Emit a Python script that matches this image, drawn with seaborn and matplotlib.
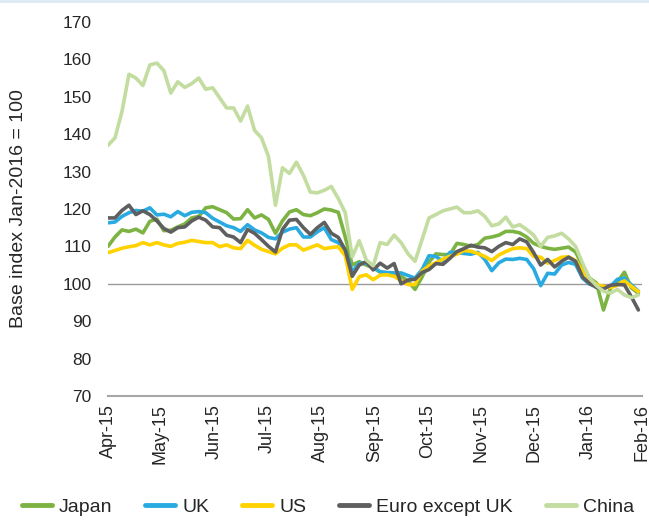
import seaborn as sns
import matplotlib.pyplot as plt
import matplotlib.dates as mdates
import pandas as pd
from matplotlib.lines import Line2D

sns.set_style("white")
plt.rcParams['font.family'] = ['Liberation Sans', 'DejaVu Sans']

# Index values (Jan-2016 = 100), sampled every 4 days from 1 Apr 2015
dates = pd.date_range("2015-04-01", periods=77, freq="4D")

japan = [110, 112.5, 114.4, 114, 114.6, 113.6, 116.7, 117.3, 114.2, 114.3,
         115.2, 116, 117.6, 118, 120.3, 120.6, 119.8, 119, 117.3, 117.4,
         119.8, 117.6, 118.4, 117.2, 113.5, 116.8, 119.2, 119.8, 118.5, 118.2,
         119, 120, 119.7, 119.1, 112.5, 105, 105.9, 105, 104.3, 103.1,
         102.9, 102.6, 102, 100.7, 98.5, 101.8, 105.8, 108, 107.8, 107.8,
         110.8, 110.5, 110, 110.5, 112.2, 112.5, 113, 114, 114, 113.6,
         112.5, 110.8, 110, 109.5, 109.2, 109.5, 109.8, 108.5, 104.8, 101.5,
         100.2, 93, 98.8, 100.5, 103.1, 98.9, 97.5]

uk = [116.3, 116.5, 118, 119, 119.6, 119.4, 120.3, 118.4, 118.6, 117.9,
      119.3, 118.2, 119.1, 119.3, 119, 117.5, 116.5, 115.5, 115, 114,
      115.8, 114.4, 113.6, 112.4, 112, 113.8, 114.6, 115, 112.5, 112.5,
      113.9, 115, 111.8, 111, 109, 103.2, 105.5, 105.5, 104.4, 103.2,
      103, 102.9, 102.9, 102.2, 101.5, 103.8, 107.5, 107.3, 106, 108.4,
      108.4, 108.1, 107.9, 108.4, 106.5, 103.5, 105.6, 106.6, 106.5, 106.8,
      106.5, 104, 99.5, 102.8, 102.6, 105, 105.7, 105.2, 101.5, 99.9,
      99.4, 99, 99.3, 101.2, 101.5, 99.7, 98]

us = [108.3, 108.9, 109.5, 109.9, 110.2, 111, 110.4, 111, 110.4, 110,
      110.8, 111.1, 111.6, 111.3, 111, 111, 109.9, 110.4, 109.6, 109.4,
      111.6, 110.3, 109.2, 108.6, 108, 109.5, 110.4, 110.4, 109, 109.7,
      110.4, 109.4, 109.7, 109.9, 107.5, 98.5, 101.9, 102.4, 101.1, 102.3,
      102.4, 102, 100.8, 99.8, 99.8, 103.4, 104.8, 105.6, 106.6, 107.4,
      107.9, 108.9, 108.7, 108.1, 107.3, 106.2, 107.7, 108.6, 109.4, 109.6,
      109.4, 107.3, 107.1, 105.5, 106.2, 107.1, 107.2, 106.2, 103.5, 101.2,
      99.8, 99.3, 99, 99.6, 100.8, 99.3, 97.9]

euro = [117.6, 117.6, 119.6, 121, 118.5, 119.5, 118.5, 116.8, 114.8, 113.8,
        115, 115.2, 116.8, 117.8, 117, 115.2, 115, 113, 112.5, 111,
        114.5, 113.5, 111.8, 110, 108.5, 114.5, 117, 117.2, 115, 113.2,
        115, 116.4, 113.5, 112.4, 109, 102, 105, 105.9, 103.7, 105.5,
        104.2, 105.4, 100, 101, 101.2, 103, 103.8, 105.4, 105.2, 106.8,
        108.6, 109.4, 110.3, 109.8, 109.6, 108.6, 110, 111, 110.5, 112,
        111.2, 108.3, 105, 106.5, 104.5, 106, 107.1, 106, 101.8, 100.1,
        99, 98.6, 99.6, 99.8, 99.7, 96.5, 93]

china = [137, 139, 146, 156, 155, 153, 158.5, 159, 157, 151,
         154, 152.5, 153.5, 155, 152, 152.4, 149.7, 147, 147, 143.5,
         147.5, 141, 139, 134, 121, 131, 129.5, 132.5, 129, 124.5,
         124.3, 125, 126, 122.8, 119, 107.2, 111.5, 106.4, 104.8, 111,
         110.5, 113, 111, 108, 106, 111.8, 117.6, 118.5, 119.5, 120,
         120.5, 119, 119, 119.5, 118, 115.5, 116, 117.8, 115.2, 115.8,
         114.5, 113, 110, 112.4, 112.8, 113.5, 112, 110, 105.5, 101.5,
         99.5, 98, 97.5, 98.5, 97, 96.3, 97]

series = ['Japan', 'UK', 'US', 'Euro except UK', 'China']
colors = ['#7cb342', '#29abe2', '#ffd200', '#5f5f5f', '#c3dca0']

df = pd.concat([
    pd.DataFrame({'Date': dates, 'Index': vals, 'Market': name})
    for name, vals in zip(series, [japan, uk, us, euro, china])
])

fig = plt.figure(figsize=(6.49, 5.22), dpi=100)
ax = fig.add_axes([0.1664, 0.2414, 0.8226, 0.7166])

sns.lineplot(data=df, x='Date', y='Index', hue='Market', hue_order=series,
             palette=dict(zip(series, colors)), linewidth=2.6, ax=ax,
             legend=False)

ax.axhline(100, color='#9a9a9a', linewidth=1.0, zorder=0)

ax.set_ylim(70, 170)
ax.set_yticks(range(70, 171, 10))
ax.set_xlim(pd.Timestamp('2015-04-01'), pd.Timestamp('2016-02-01'))
ax.xaxis.set_major_locator(mdates.MonthLocator())
ax.xaxis.set_major_formatter(mdates.DateFormatter('%b-%y'))
plt.setp(ax.get_xticklabels(), rotation=90)

ax.set_xlabel('')
ax.set_ylabel('Base index Jan-2016 = 100', fontsize=14, labelpad=25)
ax.tick_params(axis='y', labelsize=12.5, length=0, pad=12)
ax.tick_params(axis='x', labelsize=13, length=4, width=1,
               color='#a6a6a6', pad=2, direction='out')

for side in ['top', 'right', 'left']:
    ax.spines[side].set_visible(False)
ax.spines['bottom'].set_color('#a6a6a6')
ax.spines['bottom'].set_linewidth(1.5)

handles = [Line2D([], [], color=c, linewidth=3.5) for c in colors]
fig.legend(handles, series, loc='lower center', bbox_to_anchor=(0.505, -0.022),
           ncol=5, frameon=False, fontsize=14, handlelength=1.55,
           handletextpad=0.35, columnspacing=1.7)

fig.add_artist(Line2D([0, 1], [0.998, 0.998], color='#dce9f5', linewidth=2,
                      transform=fig.transFigure))

plt.savefig('out.png', dpi=100)
plt.close()
